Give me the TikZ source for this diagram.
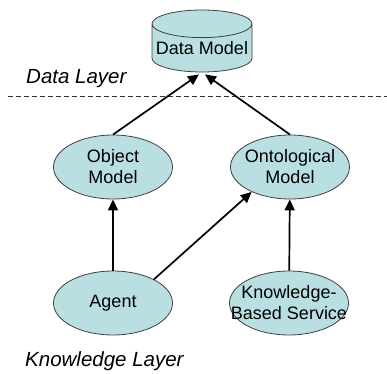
\documentclass[tikz,border=0pt]{standalone}
\usepackage{fontspec}
\setmainfont{Liberation Sans}
\usepackage{tikz}
\usetikzlibrary{shapes.geometric, arrows.meta, positioning}
\definecolor{modelfill}{RGB}{185,223,227}

\begin{document}
\begin{tikzpicture}[x=10pt, y=10pt,
    model/.style={ellipse, draw=black!75, line width=0.8pt, fill=modelfill,
        minimum width=119pt, minimum height=64pt, inner sep=-18pt,
        align=center, font=\fontsize{18}{21}\selectfont},
    store/.style={cylinder, shape border rotate=90, aspect=0.3, draw=black!75,
        line width=0.8pt, fill=modelfill, minimum width=100pt, minimum height=62pt,
        inner sep=0pt, font=\fontsize{18}{21}\selectfont},
    layer/.style={anchor=west, inner sep=0pt, font=\fontsize{20.5}{24}\selectfont\itshape},
    link/.style={-{Triangle[width=10pt,length=11pt]}, line width=1.7pt}]
\useasboundingbox (0,0) rectangle (38.7,37.3);

% Data layer
\node[store, anchor=shape center] (data) at (20.2,33.2) {Data Model};
\node[layer] (datalayer) at (2.6,29.4) {Data Layer};
\draw[black!80, line width=0.8pt, dash pattern=on 5pt off 3pt] (0.8,27.7) -- (38.7,27.7);

% Knowledge layer
\node[model] (object) at (11.3,20.6) {Object\\Model};
\node[model] (onto) at (29.0,20.6) {Ontological\\Model};
\node[model] (agent) at (11.3,7.0) {Agent};
\node[model] (kbs) at (28.9,7.0) {Knowledge-\\Based Service};
\node[layer] (knowlayer) at (2.5,1.2) {Knowledge Layer};

% Links
\draw[link] (object.north) -- ([xshift=-3pt,yshift=-2pt]data.south);
\draw[link] (onto.north) -- ([xshift=3pt,yshift=-2pt]data.south);
\draw[link] (agent) -- (object);
\draw[link] (kbs) -- (onto);
\draw[link] (agent.30) -- (onto.213);
\end{tikzpicture}
\end{document}
